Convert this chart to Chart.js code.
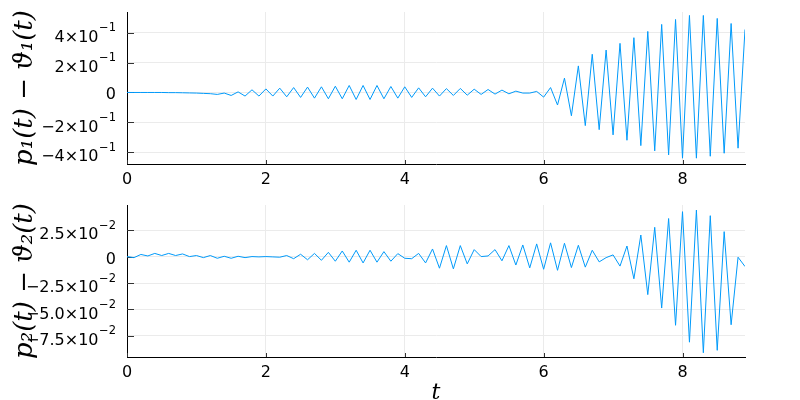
<!DOCTYPE html>
<html>
<head>
<meta charset="utf-8">
<script src="https://cdn.jsdelivr.net/npm/chart.js@4"></script>
<style>
  html, body { margin: 0; padding: 0; background: #fff; overflow: hidden; }
  .box { position: absolute; left: 0; width: 800px; height: 200px; }
  #b1 { top: 0; }
  #b2 { top: 200px; }
</style>
</head>
<body>
<div class="box" id="b1"><canvas id="c1" width="800" height="200"></canvas></div>
<div class="box" id="b2"><canvas id="c2" width="800" height="200"></canvas></div>
<script>
// sampling step of t (0 .. 8.9)
const tStep = 0.1;

// p1(t) - theta1(t)
const diff1 = [
  0, 0, 0, 0, 0, 0, -0.001, -0.001, -0.002, -0.003,
  -0.004, -0.006, -0.008, -0.013, -0.004, -0.02, 0.004, -0.024, 0.018, -0.024,
  0.024, -0.024, 0.029, -0.029, 0.033, -0.033, 0.036, -0.038, 0.038, -0.042,
  0.042, -0.042, 0.047, -0.047, 0.047, -0.047, 0.047, -0.042, 0.04, -0.038,
  0.038, -0.033, 0.031, -0.029, 0.029, -0.024, 0.026, -0.02, 0.027, -0.018,
  0.022, -0.013, 0.02, -0.011, 0.016, -0.009, 0.009, -0.004, -0.004, 0.007,
  -0.031, 0.033, -0.084, 0.096, -0.156, 0.178, -0.222, 0.256, -0.249, 0.284,
  -0.284, 0.329, -0.32, 0.367, -0.356, 0.409, -0.391, 0.456, -0.418, 0.489,
  -0.44, 0.516, -0.44, 0.516, -0.427, 0.496, -0.407, 0.462, -0.373, 0.422
];

// p2(t) - theta2(t)
const diff2 = [
  0, -0.001, 0.002, 0.0006, 0.003, 0.001, 0.003, 0.001, 0.0025, 0,
  0.001, -0.001, 0.001, -0.0016, 0.0003, -0.0016, 0.0003, -0.001, 0, -0.0003,
  0, -0.0003, -0.0006, 0.001, -0.002, 0.0022, -0.003, 0.003, -0.0035, 0.004,
  -0.0044, 0.0053, -0.0053, 0.006, -0.006, 0.006, -0.0053, 0.0047, -0.0044, 0.0028,
  -0.0016, -0.002, 0.003, -0.006, 0.0072, -0.011, 0.0104, -0.0116, 0.0104, -0.0069,
  0.0066, 0, 0.0006, 0.0066, -0.004, 0.0104, -0.008, 0.011, -0.0107, 0.012,
  -0.012, 0.013, -0.013, 0.0126, -0.0104, 0.0107, -0.01, 0.006, -0.005, -0.001,
  0.0016, -0.009, 0.01, -0.021, 0.0204, -0.036, 0.0277, -0.0487, 0.036, -0.065,
  0.0425, -0.081, 0.044, -0.091, 0.0387, -0.0887, 0.0236, -0.0645, -0.0006, -0.0094
];

const xTicks = [0, 2, 4, 6, 8];
const y1Ticks = [-0.4, -0.2, 0, 0.2, 0.4];
const y2Ticks = [-0.075, -0.05, -0.025, 0, 0.025];

// Plots-style inward tick marks + y labels with real superscripts
const axisDecor = {
  id: 'axisDecor',
  beforeDatasetsDraw(chart) {
    const { ctx, chartArea: a, scales: { x, y } } = chart;
    ctx.save();
    ctx.strokeStyle = '#333';
    ctx.lineWidth = 1;
    ctx.beginPath();
    y.ticks.forEach(t => {
      const py = Math.round(y.getPixelForValue(t.value)) + 0.5;
      ctx.moveTo(a.left, py);
      ctx.lineTo(a.left + 7, py);
    });
    x.ticks.forEach(t => {
      const px = Math.round(x.getPixelForValue(t.value)) + 0.5;
      ctx.moveTo(px, a.bottom);
      ctx.lineTo(px, a.bottom - 4);
    });
    ctx.stroke();
    ctx.restore();
  },
  afterDraw(chart, args, opts) {
    const { ctx, scales: { y } } = chart;
    const right = 116;
    ctx.save();
    ctx.fillStyle = '#000';
    ctx.textAlign = 'right';
    y.ticks.forEach(t => {
      const py = y.getPixelForValue(t.value);
      const v = t.value;
      if (Math.abs(v) < 1e-12) {
        ctx.font = '16px "DejaVu Sans"';
        ctx.textBaseline = 'alphabetic';
        ctx.fillText('0', right, py + 7);
        return;
      }
      const m = v / Math.pow(10, opts.exp);
      const mant = (m < 0 ? '−' : '') + (opts.digits ? Math.abs(m).toFixed(opts.digits) : String(Math.round(Math.abs(m)))) + '×10';
      const ex = String(opts.exp).replace('-', '−');
      ctx.textBaseline = 'alphabetic';
      ctx.font = '11.5px "DejaVu Sans"';
      const exW = ctx.measureText(ex).width;
      ctx.fillText(ex, right, py - 1.4);
      ctx.font = '16px "DejaVu Sans"';
      ctx.fillText(mant, right - exW - 0.5, py + 9.2);
    });
    ctx.restore();
  }
};

function makeChart(id, values, yMin, yMax, yTicks, exp, digits, yTitle, padTop, xHeight, showXTitle) {
  const pts = values.map((v, i) => ({ x: +(i * tStep).toFixed(1), y: v }));
  return new Chart(document.getElementById(id), {
    type: 'line',
    data: {
      datasets: [{
        data: pts,
        borderColor: '#009AFA',
        borderWidth: 1,
        pointRadius: 0,
        tension: 0,
        fill: false
      }]
    },
    options: {
      responsive: false,
      animation: false,
      layout: { padding: { left: 0, right: 55, top: padTop, bottom: 0 } },
      plugins: {
        legend: { display: false },
        tooltip: { enabled: false },
        axisDecor: { exp: exp, digits: digits }
      },
      scales: {
        x: {
          type: 'linear',
          min: 0,
          max: 8.9,
          afterBuildTicks: s => { s.ticks = xTicks.map(v => ({ value: v })); },
          afterFit: s => { s.height = xHeight; s.paddingLeft = 0; s.paddingRight = 0; },
          ticks: {
            font: { family: 'DejaVu Sans', size: 16 },
            color: '#000',
            padding: 6,
            maxRotation: 0,
            callback: v => String(v)
          },
          grid: { color: '#ebebeb', drawTicks: false },
          border: { color: '#000', width: 1 },
          title: {
            display: showXTitle,
            text: 't',
            font: { family: 'DejaVu Serif', style: 'italic', size: 22, lineHeight: 0.6 },
            color: '#000',
            padding: 0
          }
        },
        y: {
          min: yMin,
          max: yMax,
          afterBuildTicks: s => { s.ticks = yTicks.map(v => ({ value: v })); },
          afterFit: s => { s.width = 127; s.paddingTop = 0; s.paddingBottom = 0; },
          ticks: { display: false },
          grid: { color: '#ebebeb', drawTicks: false },
          border: { color: '#000', width: 1 },
          title: {
            display: true,
            text: yTitle,
            font: { family: 'DejaVu Serif', style: 'italic', size: 26, lineHeight: 1 },
            color: '#000',
            padding: { top: 12, bottom: 0 }
          }
        }
      }
    },
    plugins: [axisDecor]
  });
}

makeChart('c1', diff1, -0.479, 0.539, y1Ticks, -1, 0, 'p₁(t) − ϑ₁(t)', 12, 36, false);
makeChart('c2', diff2, -0.095, 0.0488, y2Ticks, -2, 1, 'p₂(t) − ϑ₂(t)', 5, 43, true);
</script>
</body>
</html>
